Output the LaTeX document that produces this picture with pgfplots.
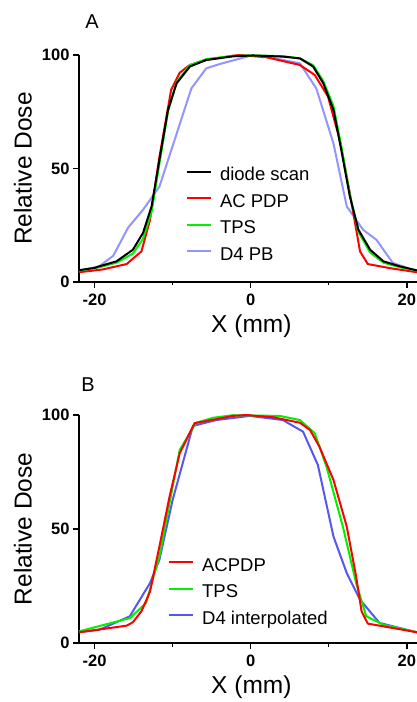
\documentclass[border=0pt]{standalone}
\usepackage{pgfplots}
\pgfplotsset{compat=1.18}
\usepackage{fontspec}
\setmainfont{Liberation Sans}
\definecolor{tpsgreen}{HTML}{00F000}
\definecolor{pbblue}{HTML}{9494FF}
\definecolor{intblue}{HTML}{5757F0}
\pgfplotsset{
 myax/.style={
  scale only axis, width=338pt,
  xmin=-22, xmax=21.3, ymin=0, ymax=100,
  axis lines=left, axis line style={-, line width=1.7pt},
  xtick={-20,0,20}, minor xtick={-10,10}, ytick={0,50,100},
  tick align=outside, major tick length=6pt, minor tick length=3.5pt,
  every tick/.style={line width=1.4pt, black},
  /pgf/number format/assume math mode=true,
  ticklabel style={font=\bfseries\fontsize{16.5}{18}\selectfont},
  xticklabel style={yshift=-2pt},
  xlabel={X (mm)}, ylabel={Relative Dose},
  label style={font=\fontsize{24.5}{28}\selectfont},
  xlabel style={at={(axis description cs:0.51,-0.194)}, anchor=center},
  ylabel style={at={(axis description cs:-0.166,0.5)}, anchor=center},
  legend cell align=left,
  legend style={draw=none, fill=none, inner sep=0pt, outer sep=0pt,
    font=\fontsize{18.5}{20}\selectfont, row sep=0.5pt, column sep=4pt,
    nodes={inner sep=4.25pt, text height=13.5pt, text depth=4pt}},
  legend image code/.code={\draw[#1, line width=2pt] (0pt,4pt) -- (24pt,4pt);},
  clip=false,
  every axis plot/.append style={line width=2pt, line join=round},
 }
}
\begin{document}
\begin{tikzpicture}
\useasboundingbox (0,0) rectangle (417pt,702pt);
\node[font=\fontsize{20}{22}\selectfont] at (92pt,680pt) {A};
\node[font=\fontsize{20}{22}\selectfont] at (88pt,317pt) {B};
\begin{axis}[myax, height=227pt, at={(79pt,420pt)}, anchor=south west,
  legend style={at={(axis description cs:0.316,0.525)}, anchor=north west}]
\addlegendimage{black}\addlegendentry{diode scan}
\addlegendimage{red}\addlegendentry{AC PDP}
\addlegendimage{tpsgreen}\addlegendentry{TPS}
\addlegendimage{pbblue}\addlegendentry{D4 PB}
\addplot[pbblue, forget plot] coordinates {
(-22,5.0) (-19.4,6.9) (-17.6,11.6) (-15.7,24) (-13.8,31.8) (-11.7,42) (-7.6,85.3) (-5.7,94.1) (-4.0,96) (-0.1,99.6) (2.0,99.3) (6.3,96.3) (8.4,85.3) (10.6,61) (12.3,33.3) (14.4,23) (16.1,18.6) (18.2,8.4) (21.3,4.7)};
\addplot[red, forget plot] coordinates {
(-22,4.3) (-19,5.5) (-15.9,7.9) (-14.0,13.5) (-12.9,27.4) (-11.7,55) (-10.2,84.6) (-9.1,92.2) (-7.8,95.6) (-5.7,97.8) (-2.3,99.7) (-1.4,100) (2.0,99) (6.3,95.6) (8.2,91.2) (9.9,81.7) (11.4,62.6) (12.7,39) (14.0,13.5) (15.0,7.9) (18,6) (21.3,4.3)};
\addplot[tpsgreen, forget plot] coordinates {
(-22,5.0) (-19.4,6.5) (-17.2,8.5) (-15.1,12.5) (-13.8,19) (-12.7,31) (-11.7,52) (-10.6,75) (-9.5,88) (-7.8,95.5) (-5.7,98.2) (-2.3,99.6) (0.3,99.8) (4.1,99.5) (6.3,98.5) (8.0,95.5) (9.3,88.5) (10.6,77.5) (11.6,60) (12.7,38.5) (13.8,22) (15.3,13) (17.0,8.5) (19.1,6.5) (21.3,5.0)};
\addplot[black, forget plot] coordinates {
(-22,5.2) (-20,6.2) (-19.4,6.9) (-17.2,9.1) (-15.1,14.2) (-13.8,21.6) (-12.7,33.3) (-11.7,53.8) (-10.6,75.8) (-9.5,87.5) (-7.8,94.9) (-5.7,97.8) (-2.3,99.4) (0.3,99.8) (4.1,99.3) (6.3,98.5) (8.0,94.9) (9.3,87.5) (10.6,75.8) (11.6,58.2) (12.7,37.7) (13.8,23) (15.3,14.2) (17.0,9.1) (19.1,6.9) (21.3,5.1)};
\end{axis}
\begin{axis}[myax, height=228pt, at={(79pt,59pt)}, anchor=south west,
  legend style={at={(axis description cs:0.263,0.393)}, anchor=north west}]
\addlegendimage{red}\addlegendentry{ACPDP}
\addlegendimage{tpsgreen}\addlegendentry{TPS}
\addlegendimage{intblue}\addlegendentry{D4 interpolated}
\addplot[intblue, forget plot] coordinates {
(-22,4.7) (-19.4,5.8) (-15.5,11.7) (-12.9,26.3) (-11.7,36.5) (-10.0,62.8) (-7.4,95.2) (-4.4,97.8) (-0.1,99.6) (4.1,97.8) (6.7,92.7) (8.6,78.1) (10.6,46.7) (12.3,30.7) (14.0,19) (16.5,8.8) (21.3,4.7)};
\addplot[tpsgreen, forget plot] coordinates {
(-22,5.1) (-15.5,10.9) (-13.4,17.5) (-11.7,38) (-9.1,84.7) (-7.0,96.6) (-4.8,98.8) (-2.3,99.9) (3.7,99.6) (6.3,97.8) (8.2,92) (9.7,77.4) (11.8,51.1) (13.5,26.3) (14.8,11.7) (17.0,8) (21.3,4.7)};
\addplot[red, forget plot] coordinates {
(-22,4.7) (-15.9,7.6) (-15.1,9.1) (-14.0,13.9) (-12.9,22.6) (-11.7,42.3) (-10.4,64.2) (-9.1,83.2) (-7.2,96.4) (-4.4,98.2) (-2.3,99.6) (-0.6,100) (2.9,99) (6.3,96.6) (7.6,93.4) (8.8,86.1) (10.6,71.5) (12.3,51.1) (13.5,29.2) (14.2,13.9) (15.0,8.5) (21.3,4.7)};
\end{axis}
\end{tikzpicture}
\end{document}
